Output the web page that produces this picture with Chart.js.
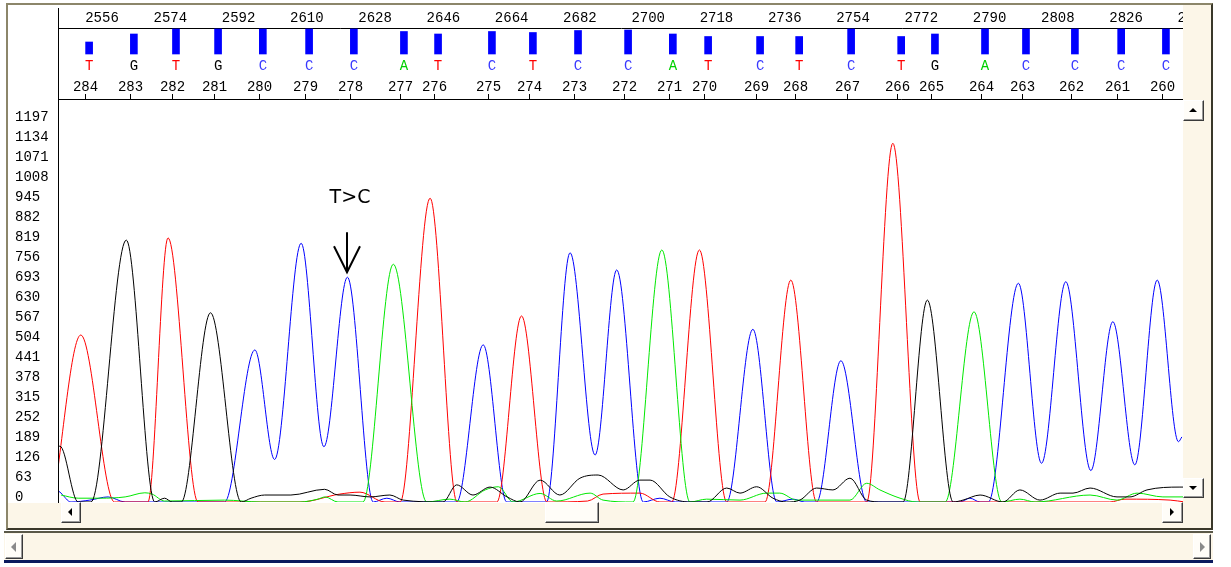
<!DOCTYPE html>
<html>
<head>
<meta charset="utf-8">
<script src="https://cdn.jsdelivr.net/npm/chart.js@4.4.1/dist/chart.umd.min.js"></script>
<style>
  html, body { margin: 0; padding: 0; background: #fff; width: 1231px; height: 567px; overflow: hidden; }
  .abs { position: absolute; box-sizing: border-box; }
  #frame { left: 6px; top: 3px; width: 1207px; height: 527px; background: #fcf6e8;
           border: 2px solid; border-color: #8c866a #3a382a #3a382a #8c866a; }
  #panel { left: 8px; top: 5px; width: 1175px; height: 498px; background: #fff; }
  #wrap { left: 8px; top: 8px; width: 1175px; height: 495px; }
  .btn { background: #fffdf8; border: 1px solid; border-color: #fff #3a3a3a #3a3a3a #fff;
         box-shadow: inset -1px -1px 0 #9a9a9a; }
  .tri { position: absolute; width: 0; height: 0; }
  #hbar { left: 4px; top: 531px; width: 1209px; height: 30px; background: #fcf6e8;
          border-top: 2px solid #5a5848; }
  #navy { left: 4px; top: 560px; width: 1209px; height: 3px; background: #0b1a5e; }
</style>
</head>
<body>
<div class="abs" id="frame"></div>
<div class="abs" id="panel"></div>
<div class="abs" id="wrap"><canvas id="c" width="1175" height="495"></canvas></div>

<div class="abs btn" style="left:1183px;top:100px;width:21px;height:21px">
  <div class="tri" style="left:5px;top:7px;border-left:4px solid transparent;border-right:4px solid transparent;border-bottom:4px solid #000"></div>
</div>
<div class="abs btn" style="left:1183px;top:478px;width:21px;height:20px">
  <div class="tri" style="left:5px;top:7px;border-left:4px solid transparent;border-right:4px solid transparent;border-top:4px solid #000"></div>
</div>
<div class="abs btn" style="left:61px;top:502px;width:20px;height:21px">
  <div class="tri" style="left:6px;top:5px;border-top:4px solid transparent;border-bottom:4px solid transparent;border-right:4px solid #000"></div>
</div>
<div class="abs btn" style="left:545px;top:502px;width:54px;height:21px"></div>
<div class="abs btn" style="left:1162px;top:502px;width:21px;height:21px">
  <div class="tri" style="left:7px;top:5px;border-top:4px solid transparent;border-bottom:4px solid transparent;border-left:4px solid #000"></div>
</div>

<div class="abs" id="hbar"></div>
<div class="abs btn" style="left:5px;top:534px;width:18px;height:25px">
  <div class="tri" style="left:5px;top:7px;border-top:5px solid transparent;border-bottom:5px solid transparent;border-right:5px solid #8a8a8a"></div>
</div>
<div class="abs btn" style="left:1193px;top:534px;width:18px;height:25px">
  <div class="tri" style="left:6px;top:7px;border-top:5px solid transparent;border-bottom:5px solid transparent;border-left:5px solid #8a8a8a"></div>
</div>
<div class="abs" id="navy"></div>

<script>
// scan numbers along the top, and the signal axis labels
const scanTicks = [2556, 2574, 2592, 2610, 2628, 2646, 2664, 2682, 2700, 2718, 2736, 2754, 2772, 2790, 2808, 2826, 2844];
const yTicks = [0, 63, 126, 189, 252, 315, 378, 441, 504, 567, 630, 693, 756, 819, 882, 945, 1008, 1071, 1134, 1197];

// base calls: position (scan), base number, call, quality
const callScan = [2552.6, 2564.4, 2575.5, 2586.6, 2598.4, 2610.6, 2622.4, 2635.6, 2644.6, 2658.8,
                  2669.6, 2681.5, 2694.7, 2706.5, 2715.8, 2729.5, 2739.8, 2753.5, 2766.7, 2775.6,
                  2788.8, 2799.6, 2812.5, 2824.7, 2836.5];
const baseNums = [284, 283, 282, 281, 280, 279, 278, 277, 276, 275, 274, 273, 272, 271, 270,
                  269, 268, 267, 266, 265, 264, 263, 262, 261, 260];
const baseCalls = ['T', 'G', 'T', 'G', 'C', 'C', 'C', 'A', 'T', 'C', 'T', 'C', 'C', 'A', 'T',
                   'C', 'T', 'C', 'T', 'G', 'A', 'C', 'C', 'C', 'C'];
const quality = [24, 40, 50, 50, 50, 50, 50, 45, 40, 45, 43, 47, 48, 40, 35,
                 35, 35, 50, 35, 40, 50, 50, 50, 50, 50];

// trace samples [scan, signal] per dye
const traceT = [[2543.1, 0], [2550.4, 526], [2559.3, 0], [2568.1, 0], [2573.4, 832], [2581.3, 0],
  [2608.2, 0], [2618.7, 25], [2624.0, 31], [2630.6, 0], [2634.6, 0], [2642.5, 957], [2649.6, 0],
  [2660.1, 0], [2666.6, 586], [2673.3, 0], [2684.0, 3], [2688.1, 25], [2697.8, 28], [2703.1, 0],
  [2706.2, 0], [2713.5, 794], [2720.7, 0], [2730.8, 0], [2737.6, 699], [2744.4, 0], [2757.6, 0],
  [2764.5, 1130], [2771.7, 0], [2821.7, 0], [2825.7, 9], [2837.6, 6], [2841.5, 0]];
const traceG = [[2541.0, 100], [2544.9, 176], [2549.7, 0], [2553.1, 0], [2562.4, 825], [2569.9, 0],
  [2572.5, 12], [2574.5, 0], [2576.9, 0], [2584.6, 596], [2592.7, 0], [2595.3, 12], [2598.9, 22],
  [2605.8, 22], [2614.7, 40], [2618.2, 22], [2621.4, 22], [2626.7, 16], [2631.9, 22], [2635.4, 6],
  [2645.9, 0], [2649.5, 54], [2653.8, 22], [2658.3, 47], [2662.8, 16], [2666.2, 0], [2671.5, 69],
  [2676.7, 22], [2682.0, 75], [2686.8, 85], [2693.4, 38], [2697.8, 69], [2700.5, 69], [2705.7, 16],
  [2711.0, 0], [2715.5, 0], [2720.7, 44], [2724.2, 28], [2728.6, 48], [2732.9, 12], [2736.5, 0],
  [2740.0, 6], [2744.4, 44], [2748.7, 38], [2753.2, 75], [2757.6, 6], [2761.9, 0], [2767.2, 0],
  [2773.6, 636], [2780.4, 0], [2783.0, 6], [2787.5, 22], [2793.5, 0], [2798.0, 38], [2803.3, 6],
  [2808.6, 28], [2812.0, 28], [2816.5, 44], [2823.6, 16], [2827.0, 16], [2831.5, 38], [2840.2, 47],
  [2841.8, 47]];
const traceC = [[2544.0, 40], [2545.2, 28], [2547.8, 0], [2552.8, 6], [2557.6, 16], [2562.1, 0],
  [2588.3, 0], [2596.3, 479], [2601.5, 134], [2608.5, 815], [2614.5, 174], [2620.7, 708],
  [2627.5, 0], [2631.1, 12], [2634.6, 0], [2649.5, 0], [2656.5, 495], [2662.7, 0], [2673.2, 0],
  [2679.4, 785], [2686.0, 148], [2691.7, 731], [2698.7, 0], [2703.1, 12], [2707.1, 0], [2720.7, 0],
  [2727.6, 544], [2733.9, 0], [2738.2, 9], [2741.3, 0], [2744.4, 0], [2750.8, 445], [2757.6, 0],
  [2782.2, 0], [2784.8, 12], [2787.5, 0], [2789.7, 0], [2797.6, 689], [2803.7, 122], [2810.1, 694],
  [2816.7, 99], [2822.5, 568], [2828.3, 117], [2834.2, 699], [2839.8, 190], [2840.7, 205]];
const traceA = [[2545.2, 22], [2549.7, 12], [2555.5, 12], [2562.1, 16], [2567.3, 29], [2569.2, 25],
  [2572.5, 3], [2588.3, 6], [2597.7, 0], [2608.2, 0], [2612.9, 9], [2614.8, 16], [2618.2, 0],
  [2624.8, 0], [2632.8, 749], [2641.6, 0], [2647.7, 9], [2651.7, 0], [2657.0, 38], [2660.5, 48],
  [2664.4, 0], [2671.5, 27], [2675.9, 3], [2684.7, 28], [2688.1, 6], [2696.0, 0], [2703.6, 794],
  [2711.0, 0], [2715.4, 9], [2724.2, 6], [2731.2, 28], [2734.7, 28], [2739.1, 6], [2753.2, 6],
  [2757.6, 59], [2761.1, 38], [2766.4, 12], [2770.9, 0], [2778.3, 0], [2785.9, 599], [2793.2, 0],
  [2798.0, 9], [2802.0, 0], [2816.5, 22], [2823.6, 6], [2828.9, 28], [2835.7, 16], [2841.5, 16]];

// the marked variant
const annotation = { label: 'T>C', scan: 2620.7, signal: 708 };

const traceColor = { A: '#00e800', C: '#0000ff', G: '#000000', T: '#ff0000' };
const callColor = { A: '#00d000', C: '#3838ff', G: '#000000', T: '#ff0000' };
const MONO = '"Liberation Mono", "Courier New", monospace';

// header rows (base letters, base numbers, ticks) and the T>C mark
const headerPlugin = {
  id: 'header',
  afterDraw(chart) {
    const { ctx, chartArea: a, scales: { x, y } } = chart;
    ctx.save();
    ctx.strokeStyle = '#000';
    ctx.lineWidth = 1;
    ctx.beginPath();
    ctx.moveTo(a.left - 0.5, 0);
    ctx.lineTo(a.left - 0.5, chart.height);
    ctx.moveTo(a.left - 1, 91.5);
    ctx.lineTo(a.right, 91.5);
    ctx.stroke();

    ctx.font = '14px ' + MONO;
    ctx.textAlign = 'center';
    ctx.textBaseline = 'middle';
    callScan.forEach((s, i) => {
      const px = x.getPixelForValue(s);
      ctx.fillStyle = callColor[baseCalls[i]];
      ctx.fillText(baseCalls[i], px, 58);
      const tx = Math.round(px - 4) + 0.5;
      ctx.fillStyle = '#000';
      ctx.fillText(String(baseNums[i]), tx, 79);
      ctx.beginPath();
      ctx.moveTo(tx, 86);
      ctx.lineTo(tx, 91);
      ctx.stroke();
    });

    // arrow + label
    const ax = Math.round(x.getPixelForValue(annotation.scan));
    const tip = y.getPixelForValue(annotation.signal) - 5;
    ctx.lineWidth = 2;
    ctx.beginPath();
    ctx.moveTo(ax, tip - 40);
    ctx.lineTo(ax, tip);
    ctx.moveTo(ax - 13, tip - 26);
    ctx.lineTo(ax, tip);
    ctx.lineTo(ax + 13, tip - 26);
    ctx.stroke();
    ctx.fillStyle = '#000';
    ctx.font = '19px "DejaVu Sans", Arial, sans-serif';
    ctx.fillText(annotation.label, ax + 3, tip - 74);
    ctx.restore();
  }
};

const traceSet = (data, dye) => ({
  type: 'line', data, borderColor: traceColor[dye], borderWidth: 1,
  pointRadius: 0, cubicInterpolationMode: 'monotone', yAxisID: 'y', xAxisID: 'x'
});

const noPad = (s) => { s.paddingLeft = 0; s.paddingRight = 0; s.paddingTop = 0; s.paddingBottom = 0; };

new Chart(document.getElementById('c'), {
  type: 'line',
  data: {
    datasets: [
      {
        type: 'bar', yAxisID: 'yq', xAxisID: 'x',
        data: callScan.map((s, i) => ({ x: s, y: quality[i] })),
        backgroundColor: '#0000ff', borderWidth: 0, barThickness: 7
      },
      traceSet(traceG, 'G'),
      traceSet(traceA, 'A'),
      traceSet(traceT, 'T'),
      traceSet(traceC, 'C')
    ]
  },
  options: {
    responsive: false,
    animation: false,
    devicePixelRatio: 1,
    layout: { padding: { left: 7, top: 0, right: 0, bottom: 1 } },
    plugins: { legend: { display: false }, tooltip: { enabled: false } },
    scales: {
      x: {
        type: 'linear', position: 'top', min: 2544.66, max: 2841.0, offset: false,
        grid: { display: false, drawTicks: false },
        border: { display: true, color: '#000' },
        ticks: { autoSkip: false, maxRotation: 0, padding: 1, color: '#000',
                 font: { family: MONO, size: 14 }, callback: (v) => String(v) },
        afterBuildTicks: (s) => { s.ticks = scanTicks.map((v) => ({ value: v })); },
        afterFit: (s) => { s.height = 20; noPad(s); }
      },
      y: {
        type: 'linear', position: 'left', min: 0, max: 1493.1,
        grid: { display: false, drawTicks: false },
        border: { display: false },
        ticks: { crossAlign: 'far', labelOffset: -5, padding: 0, color: '#000',
                 font: { family: MONO, size: 14 }, callback: (v) => String(v) },
        afterBuildTicks: (s) => { s.ticks = yTicks.map((v) => ({ value: v })); },
        afterFit: (s) => { s.width = 44; noPad(s); }
      },
      yq: { type: 'linear', position: 'right', display: false, min: -896, max: 52,
            afterFit: noPad }
    }
  },
  plugins: [headerPlugin]
});
</script>
</body>
</html>
